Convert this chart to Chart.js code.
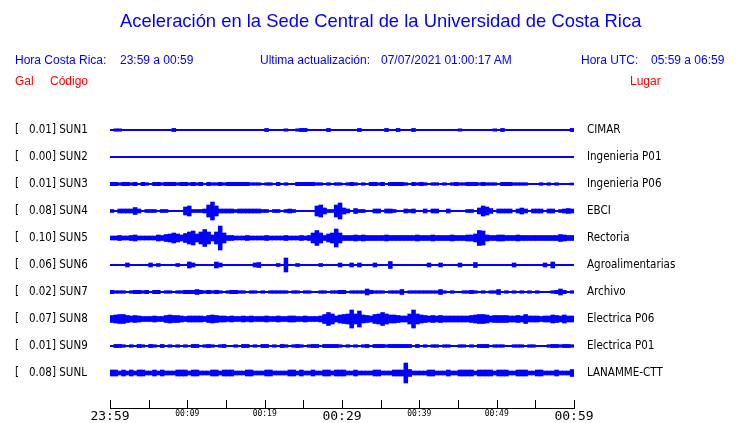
<!DOCTYPE html>
<html>
<head>
<meta charset="utf-8">
<script src="https://cdn.jsdelivr.net/npm/chart.js@4/dist/chart.umd.min.js"></script>
<style>
  html, body { margin: 0; padding: 0; background: #fff; }
  #wrap { position: relative; width: 740px; height: 423px; overflow: hidden; }
  #wrap canvas { position: absolute; left: 0; top: 0; }
  .t { position: absolute; white-space: pre; font-family: 'Liberation Sans', Arial, sans-serif; font-size: 12px; color: #0000ff; line-height: 14px; }
  .red { color: #ff0000; }
  #title { font-size: 18.4px; line-height: 21px; }
</style>
</head>
<body>
<div id="wrap">
  <canvas id="sismo" width="740" height="423"></canvas>
  <div class="t" id="title" style="left:120px;top:10px">Aceleración en la Sede Central de la Universidad de Costa Rica</div>
  <div class="t" style="left:15px;top:53px">Hora Costa Rica:</div>
  <div class="t" style="left:120px;top:53px">23:59 a 00:59</div>
  <div class="t" style="left:260px;top:53px">Ultima actualización:</div>
  <div class="t" style="left:381px;top:53px">07/07/2021 01:00:17 AM</div>
  <div class="t" style="left:581px;top:53px">Hora UTC:</div>
  <div class="t" style="left:651px;top:53px">05:59 a 06:59</div>
  <div class="t red" style="left:15px;top:74px">Gal</div>
  <div class="t red" style="left:50px;top:74px">Código</div>
  <div class="t red" style="left:630px;top:74px">Lugar</div>
</div>
<script>
// estaciones (de arriba hacia abajo)
const CODES  = ['SUN1', 'SUN2', 'SUN3', 'SUN4', 'SUN5', 'SUN6', 'SUN7', 'SUN8', 'SUN9', 'SUNL'];
const GAL    = ['0.01', '0.00', '0.01', '0.08', '0.10', '0.06', '0.02', '0.07', '0.01', '0.08'];
const PLACES = ['CIMAR', 'Ingenieria P01', 'Ingenieria P06', 'EBCI', 'Rectoria',
                'Agroalimentarias', 'Archivo', 'Electrica P06', 'Electrica P01', 'LANAMME-CTT'];

// eje de tiempo: minutos desde 23:59, marca cada 5 min
const TIME_LABELS = ['23:59', '', '00:09', '', '00:19', '', '00:29', '', '00:39', '', '00:49', '', '00:59'];
const BIN_MIN = 0.5;   // cada valor de amplitud cubre medio minuto

// semi-amplitud de la traza por intervalo de 30 s (120 valores por estación)
const SUN1 = [
  0.7,1.2,1.2,0.7,0.7,0.7,0.7,0.7,0.7,0.7, 0.7,0.7,0.7,0.7,0.7,0.7,1.6,0.7,0.7,0.7,
  0.7,0.7,0.7,0.7,0.7,0.7,0.7,0.7,0.7,0.7, 0.7,0.7,0.7,0.7,0.7,0.7,0.7,0.7,0.7,0.7,
  1.6,0.7,0.7,0.7,0.7,1.2,0.7,0.7,1.2,1.6, 1.6,0.7,0.7,0.7,0.7,0.7,1.6,0.7,0.7,0.7,
  0.7,0.7,0.7,0.7,1.6,0.7,0.7,0.7,0.7,0.7, 0.7,1.6,0.7,0.7,1.6,0.7,0.7,0.7,1.6,0.7,
  0.7,0.7,0.7,0.7,0.7,0.7,0.7,0.7,0.7,0.7, 1.2,0.7,0.7,0.7,0.7,0.7,0.7,0.7,0.7,1.2,
  0.7,1.6,0.7,0.7,0.7,0.7,0.7,0.7,0.7,0.7, 0.7,0.7,0.7,0.7,0.7,0.7,0.7,0.7,0.7,1.6
];
const SUN2 = [
  0.7,0.7,0.7,0.7,0.7,0.7,0.7,0.7,0.7,0.7, 0.7,0.7,0.7,0.7,0.7,0.7,0.7,0.7,0.7,0.7,
  0.7,0.7,0.7,0.7,0.7,0.7,0.7,0.7,0.7,0.7, 0.7,0.7,0.7,0.7,0.7,0.7,0.7,0.7,0.7,0.7,
  0.7,0.7,0.7,0.7,0.7,0.7,0.7,0.7,0.7,0.7, 0.7,0.7,0.7,0.7,0.7,0.7,0.7,0.7,0.7,0.7,
  0.7,0.7,0.7,0.7,0.7,0.7,0.7,0.7,0.7,0.7, 0.7,0.7,0.7,0.7,0.7,0.7,0.7,0.7,0.7,0.7,
  0.7,0.7,0.7,0.7,0.7,0.7,0.7,0.7,0.7,0.7, 0.7,0.7,0.7,0.7,0.7,0.7,0.7,0.7,0.7,0.7,
  0.7,0.7,0.7,0.7,0.7,0.7,0.7,0.7,0.7,0.7, 0.7,0.7,0.7,0.7,0.7,0.7,0.7,0.7,0.7,0.7
];
const SUN3 = [
  1.7,1.7,1.3,1.7,1.7,1.3,1.7,0.7,1.7,1.3, 0.7,1.7,1.7,1.3,1.7,1.7,1.7,1.3,1.7,1.7,
  1.3,1.7,1.3,1.7,0.7,1.7,1.3,1.3,1.7,1.3, 1.7,1.7,1.7,1.7,1.7,1.7,1.3,1.3,1.3,0.7,
  1.3,1.3,0.7,1.7,0.7,1.3,0.7,0.7,1.7,1.7, 1.7,1.7,1.7,1.3,1.3,0.7,1.3,0.7,1.3,1.3,
  0.7,1.3,1.7,1.3,0.7,1.3,0.7,1.7,1.7,1.3, 1.7,0.7,1.7,1.7,1.7,1.7,1.3,0.7,1.7,1.3,
  1.7,1.3,0.7,1.3,1.3,0.7,1.3,0.7,1.3,1.7, 1.3,1.3,1.7,1.7,1.7,1.3,1.7,1.3,1.3,1.3,
  0.7,1.7,1.7,1.7,1.3,1.3,1.3,1.3,0.7,0.7, 0.7,1.3,0.7,1.3,0.7,1.3,0.7,0.7,0.7,1
];
const SUN4 = [
  1.5,0.7,2,2,2,2,3.5,2,0.7,1.5, 1.5,1.5,0.7,1.5,1.5,0.7,0.7,0.7,0.7,4,
  5,1.5,1.5,1.5,2,6,9,5,2,2, 2,2,1.5,2,2,2,2,2,2,1.5,
  1.5,0.7,1.5,1.5,0.7,1.5,2,1.5,0.7,0.7, 0.7,0.7,0.7,5,6,3,1.5,1.5,6,8,
  3,2,0.7,2.5,1.5,1.5,0.7,0.7,2,2, 0.7,2,2,1.5,0.7,0.7,2,1.5,2,0.7,
  0.7,2,0.7,2,2,0.7,0.7,2,0.7,0.7, 0.7,0.7,1.5,1.5,0.7,3,5,4,2.5,0.7,
  2,2,2,2,0.7,2,3,2,0.7,2, 2,2,0.7,2,2,0.7,1.5,2,2.5,2
];
const SUN5 = [
  2,2,2.5,2,2,2.5,3,2,2,2, 2,2,3,2.5,3.5,4,5,4,3,4.5,
  6,7,4,6,8.5,6,3,6,12,5, 2.5,2.5,2,2,2,2.5,2,2,2,2,
  2.5,2,2,2,2,2.5,2,2,2,2.5, 2,2.5,5,7.5,5,2.5,4,5,9,5,
  2.5,2.5,2.5,3,2.5,3,2.5,2.5,2.5,2.5, 2.5,3,2.5,2.5,2.5,2.5,2.5,2.5,2.5,3,
  2.5,2.5,2.5,3,2.5,2.5,2.5,2.5,3,2.5, 2.5,2.5,3,3,4,7.5,7,3,2.5,2.5,
  3,3,2.5,2.5,2.5,3,2.5,2.5,2.5,2.5, 2.5,2.5,2.5,2.5,2.5,2.5,3.5,3,2.5,2.5
];
const SUN6 = [
  0.7,0.7,0.7,0.7,2,0.7,0.7,0.7,0.7,0.7, 2,0.7,1.5,0.7,0.7,0.7,0.7,1.5,0.7,0.7,
  3,2,0.7,0.7,0.7,0.7,0.7,3,2,0.7, 0.7,0.7,0.7,0.7,0.7,0.7,0.7,2,2.5,0.7,
  0.7,0.7,0.7,1.5,0.7,7,0.7,0.7,1.5,0.7, 0.7,0.7,0.7,0.7,1.5,0.7,0.7,0.7,0.7,2,
  0.7,0.7,2,0.7,2,0.7,0.7,0.7,2,0.7, 0.7,0.7,3.5,0.7,0.7,0.7,0.7,0.7,0.7,0.7,
  0.7,0.7,2,0.7,0.7,2,0.7,0.7,0.7,0.7, 2,0.7,0.7,0.7,2.5,0.7,0.7,0.7,0.7,0.7,
  0.7,0.7,0.7,0.7,2,0.7,0.7,0.7,0.7,0.7, 0.7,0.7,2,0.7,3,0.7,0.7,0.7,0.7,0.7
];
const SUN7 = [
  1.7,1.3,1.3,1.3,0.7,1.3,1.7,1.7,1.3,1.7, 0.7,1.7,1.7,0.7,1.3,1.3,0.7,1.3,1.3,1.7,
  1.7,1.7,2.5,1.7,1.3,1.7,1.3,1.7,1.3,0.7, 1.3,1.7,1.7,1.3,1.3,0.7,1.3,1.3,0.7,1.3,
  0.7,1.3,1.3,1.3,1.3,1.3,0.7,1.3,1.3,0.7, 1.3,1.3,0.7,0.7,1.3,1.3,0.7,1.3,1.3,1.7,
  1.7,0.7,1.3,1.3,1.3,1.3,3,1.7,1.3,1.3, 1.3,0.7,1.3,1.3,1.3,2.5,0.7,1.3,1.3,1.3,
  1.3,1.3,1.3,1.3,1.3,2.5,1.3,0.7,1.3,0.7, 0.7,1.3,1.3,1.7,1.3,0.7,1.3,0.7,1.3,1.3,
  2.5,0.7,1.3,0.7,1.3,0.7,1.3,0.7,1.3,0.7, 1.3,0.7,0.7,0.7,1.3,1.7,3,1.7,0.7,1.3
];
const SUN8 = [
  3.5,4,4.5,4.5,3.5,3,3.5,3,2.5,2.5, 2.5,3,2.5,2.5,3.5,4,3.5,3.5,3,2.5,
  3,3,3,3,2.5,3.5,4,3.5,3,3, 2.5,3,2.5,2.5,3,2.5,3,2.5,2.5,2.5,
  3,2.5,2.5,3,2.5,2.5,3,3,2.5,2.5, 3,2.5,2.5,2.5,3,4.5,6.5,5,3,4,
  4.5,5,9,5,8,4,3.5,3,4.5,5, 6.5,5,4,4,3.5,3,3,5,9,5,
  4,3.5,3,3.5,3,3.5,3,3,3,3, 3,3,3,3.5,4,4.5,4.5,4,3,3.5,
  3.5,3.5,3.5,3,3,3.5,3,4.5,3,3, 3,2.5,3,3,4,3.5,3,4,3,3
];
const SUN9 = [
  0.7,1.6,1.6,1.3,0.7,1.3,0.7,1.6,1.3,0.7, 1.6,1.3,0.7,1.6,0.7,1.3,0.7,1.3,0.7,1.3,
  0.7,1.6,1.6,0.7,1.3,1.6,1.3,0.7,1.3,1.6, 0.7,0.7,1.3,0.7,1.6,1.6,0.7,1.3,0.7,1.6,
  1.6,0.7,1.3,0.7,1.6,1.3,0.7,1.3,1.6,1.3, 0.7,1.3,1.6,1.6,0.7,1.6,1.6,1.6,1.6,1.3,
  0.7,1.3,0.7,1.3,0.7,1.3,1.6,0.7,1.6,1.6, 1.6,1.3,1.6,1.6,1.6,1.6,1.6,1.6,0.7,1.6,
  0.7,1.3,0.7,1.3,1.3,0.7,1.3,1.3,0.7,0.7, 1.3,1.3,0.7,1.3,0.7,1.6,1.6,1.6,0.7,1.3,
  1.3,1.3,0.7,0.7,1.3,1.3,1.3,0.7,1.3,1.3, 0.7,0.7,0.7,1.3,1.6,1.6,1.3,1.6,1.6,1.3
];
const SUNL = [
  3,3,2,3,2,3,2,3,3,2, 2,3,2,3,2,2,2,3,3,3,
  2,3,3,2,2,2,3,3,2,3, 3,3,2,2,2,3,3,2,2,2,
  3,3,2,2,2,2,3,3,2,3, 2,2,3,2,2,3,3,2,3,3,
  3,2,2,3,2,2,2,2,3,3, 2,2,2,3,3,3,10,3.5,2,2,
  2,2,3,3,2,2,2,3,2,2, 3,3,3,3,2,3,3,3,3,2,
  3,3,3,2,2,3,3,3,2,2, 3,3,2,2,2,3,2,2,2,3.5
];
const TRACES = [SUN1, SUN2, SUN3, SUN4, SUN5, SUN6, SUN7, SUN8, SUN9, SUNL];

const ROW_GAP = 27;          // separación entre trazas (unidades del eje y)
const TRACE_COLOR = '#0000ff';
const LABEL_FONT = "'DejaVu Sans Condensed', 'DejaVu Sans', sans-serif";
const TIME_FONT = "'DejaVu Sans Mono', monospace";

// marcas del eje de tiempo hacia arriba, como en el original
const upTicks = {
  id: 'upTicks',
  afterDraw(chart) {
    const sx = chart.scales.x;
    const ctx = chart.ctx;
    const y0 = chart.chartArea.bottom;
    ctx.save();
    ctx.strokeStyle = '#000';
    ctx.lineWidth = 1;
    sx.ticks.forEach(t => {
      const px = Math.round(sx.getPixelForValue(t.value)) + 0.5;
      ctx.beginPath();
      ctx.moveTo(px, y0);
      ctx.lineTo(px, y0 - 8);
      ctx.stroke();
    });
    ctx.restore();
  }
};

const datasets = TRACES.map((amp, k) => ({
  label: CODES[k],
  data: amp.map((a, i) => ({
    x: i * BIN_MIN + BIN_MIN / 2,
    y: [k * ROW_GAP - a, k * ROW_GAP + a]
  })),
  backgroundColor: TRACE_COLOR,
  borderWidth: 0,
  barPercentage: 1,
  categoryPercentage: 1,
  grouped: false,
  yAxisID: 'y'
}));

const rowTicks = scale => { scale.ticks = CODES.map((_, k) => ({ value: k * ROW_GAP })); };

new Chart(document.getElementById('sismo'), {
  type: 'bar',
  data: { datasets },
  options: {
    responsive: false,
    animation: false,
    devicePixelRatio: 1,
    layout: { padding: { top: 116, left: 15, right: 0, bottom: 0 } },
    plugins: { legend: { display: false }, tooltip: { enabled: false }, title: { display: false } },
    scales: {
      x: {
        type: 'linear',
        min: 0,
        max: 60,
        offset: false,
        grid: { display: false, drawTicks: false, tickLength: 0 },
        border: { display: true, color: '#000', width: 1 },
        ticks: {
          stepSize: 5,
          autoSkip: false,
          maxRotation: 0,
          padding: 1,
          color: '#000',
          font: c => ({ family: TIME_FONT, size: (c.tick && c.tick.value % 30 === 0) ? 13 : 8 }),
          callback: v => TIME_LABELS[Math.round(v / 5)]
        },
        afterFit: s => { s.height = 15; }
      },
      y: {
        type: 'linear',
        position: 'left',
        reverse: true,
        min: -14,
        max: 278,
        grid: { display: false, drawTicks: false, tickLength: 0 },
        border: { display: false },
        afterBuildTicks: rowTicks,
        ticks: {
          crossAlign: 'far',
          padding: 0,
          color: '#000',
          font: { family: LABEL_FONT, size: 11.5 },
          callback: (v, i) => '[   ' + GAL[i] + '] ' + CODES[i]
        },
        afterFit: s => { s.width = 95; }
      },
      yR: {
        type: 'linear',
        position: 'right',
        reverse: true,
        min: -14,
        max: 278,
        // hueco entre traza y nombre del lugar
        grid: { display: false, tickLength: 13 },
        border: { display: false },
        afterBuildTicks: rowTicks,
        ticks: {
          crossAlign: 'near',
          padding: 0,
          color: '#000',
          font: { family: LABEL_FONT, size: 11.5 },
          callback: (v, i) => PLACES[i]
        },
        afterFit: s => { s.width = 166; }
      }
    }
  },
  plugins: [upTicks]
});
</script>
</body>
</html>
